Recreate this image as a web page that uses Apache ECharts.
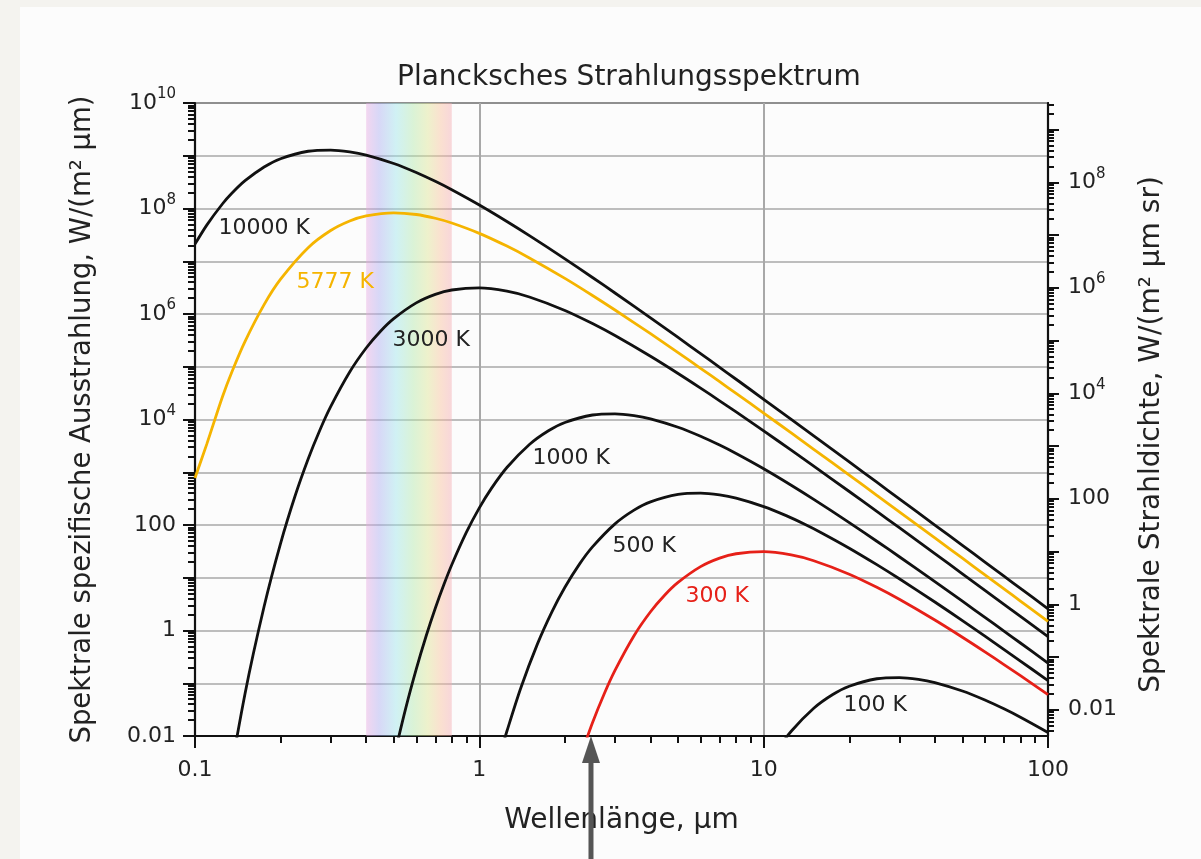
<!DOCTYPE html>
<html><head><meta charset="utf-8">
<script src="https://cdn.jsdelivr.net/npm/echarts@6/dist/echarts.min.js"></script>
<style>
html,body{margin:0;padding:0;width:1201px;height:859px;overflow:hidden;background:#f4f3ef;}
#card{position:absolute;left:20px;top:7px;right:0;bottom:0;background:#fcfcfc;}
#chart{position:absolute;left:0;top:0;width:1201px;height:859px;}
</style></head><body><div id="card"></div><div id="chart"></div>
<script>
// ---------- data (wavelength in µm, spectral exitance in W/(m² µm)) ----------
const wl10000 = [0.1,0.11,0.125,0.135,0.15,0.175,0.2,0.25,0.3,0.35,0.4,0.5,0.6,0.7,0.8,1,1.25,1.5,2,2.5,3,4,5,6,7,8,10,12.5,15,20,25,30,40,50,60,70,80,100];
const m10000  = [2.11e7,4.848e7,1.23e8,1.963e8,3.364e8,6.129e8,8.789e8,1.217e9,1.283e9,1.187e9,1.030e9,7.139e8,4.812e8,3.269e8,2.265e8,1.164e8,5.673e7,3.061e7,1.110e7,4.925e6,2.502e6,8.441e5,3.591e5,1.776e5,9.756e4,5.795e4,2.418e4,1.005e4,4894,1568,646.8,313.4,99.77,41.02,19.83,10.72,6.292,2.582];

const wl5777 = [0.1,0.11,0.125,0.135,0.15,0.175,0.2,0.25,0.3,0.35,0.4,0.5,0.6,0.7,0.8,1,1.25,1.5,2,2.5,3,4,5,6,7,8,10,12.5,15,20,25,30,40,50,60,70,80,100];
const m5777  = [780,3412,2.725e4,8.13e4,3.031e5,1.504e6,4.568e6,1.807e7,3.820e7,5.790e7,7.237e7,8.279e7,7.700e7,6.531e7,5.313e7,3.381e7,1.936e7,1.156e7,4.727e6,2.243e6,1.190e6,4.230e5,1.855e5,9.353e4,5.210e4,3.127e4,1.323e4,5561,2728,881.7,365.8,177.9,56.88,23.45,11.35,6.146,3.611,1.484];

const wl3000 = [0.125,0.15,0.175,0.2,0.225,0.25,0.275,0.3,0.35,0.4,0.45,0.5,0.6,0.7,0.8,1,1.25,1.5,2,2.5,3,4,5,6,7,8,10,12.5,15,20,25,30,40,50,60,70,80,100];
const m3000  = [2.66e-4,0.0641,2.855,45.03,358.7,1786,6343,1.756e4,7.973e4,2.268e5,4.769e5,8.176e5,1.626e6,2.358e6,2.852e6,3.117e6,2.702e6,2.100e6,1.169e6,6.595e5,3.902e5,1.577e5,7.439e4,3.931e4,2.262e4,1.391e4,6080,2622,1308,431.5,181.2,88.82,28.69,11.89,5.783,3.139,1.848,0.7616];

const wl1000 = [0.5,0.55,0.6,0.65,0.7,0.75,0.8,0.9,1,1.1,1.25,1.5,1.75,2,2.5,3,3.5,4,5,6,7,8,10,12.5,15,20,25,30,40,50,60,70,80,100];
const m1000  = [3.81e-3,0.03237,0.1853,0.786,2.637,7.350,17.65,72.27,211.1,484.8,1230,3364,6129,8789,1.217e4,1.283e4,1.187e4,1.030e4,7139,4812,3269,2265,1164,567.3,306.1,111.0,49.25,25.02,8.441,3.591,1.776,0.9756,0.5795,0.2418];

const wl500 = [1.2,1.25,1.4,1.6,1.8,2,2.25,2.5,3,3.5,4,5,6,7,8,10,12,14,16,20,25,30,40,50,60,80,100];
const m500  = [5.79e-3,0.01232,0.0824,0.5517,2.258,6.596,18.11,38.43,105.1,191.5,274.7,380.3,400.9,371.1,321.8,223.1,150.4,102.2,70.79,36.36,17.73,9.566,3.469,1.539,0.7819,0.2638,0.1122];

const wl300 = [2.25,2.5,2.75,3,3.5,4,4.5,5,6,7,8,10,12.5,15,20,25,30,40,50,60,70,80,100];
const m300  = [3.587e-3,0.01786,0.06343,0.1756,0.7973,2.268,4.769,8.176,16.26,23.58,28.52,31.17,27.02,21.00,11.69,6.595,3.902,1.577,0.7439,0.3931,0.2262,0.1391,0.0608];

const wl100 = [11,12.5,15,17.5,20,25,30,35,40,50,60,70,80,100];
const m100  = [4.848e-3,0.0123,0.03364,0.06129,0.08789,0.1217,0.1283,0.1187,0.1030,0.07139,0.04812,0.03269,0.02265,0.01164];

const curveNames = ['10000 K','5777 K','3000 K','1000 K','500 K','300 K','100 K'];
const visibleBand = [0.4, 0.8];          // µm
const arrowWavelength = 2.47;            // µm
const xTickLabels = [0.1, 1, 10, 100];
const yTickLabels = [0.01, 1, 100, 1e4, 1e6, 1e8, 1e10];
const rightTickLabels = [0.01, 1, 100, 1e4, 1e6, 1e8];

// ---------- styling / layout ----------
const FONT = 'DejaVu Sans';
const TXT = '#222';
const curveData = [[wl10000,m10000],[wl5777,m5777],[wl3000,m3000],[wl1000,m1000],[wl500,m500],[wl300,m300],[wl100,m100]];
const curveColors = ['#111','#f5b400','#111','#111','#111','#e62018','#111'];
// label anchors (left edge, vertical centre) in data coordinates
const labelAnchors = [[0.1205,4.27e7],[0.2266,4.04e6],[0.493,3.2e5],[1.532,1862],[2.93,40],[5.29,4.5],[19.0,0.0387]];

const chart = echarts.init(document.getElementById('chart'), null, {renderer:'canvas'});

function powLabel(v){
  const e = Math.round(Math.log10(v));
  if (e === -2) return '{b|0.01}';
  if (e === 0) return '{b|1}';
  if (e === 2) return '{b|100}';
  if (e % 2 !== 0) return '';
  return '{b|10}{s|' + e + '}';
}
const richLab = {
  b:{fontSize:22, fontFamily:FONT, color:TXT, lineHeight:32},
  s:{fontSize:15, fontFamily:FONT, color:TXT, verticalAlign:'top', lineHeight:17}
};
function minorValues(lo, hi){
  const out = [];
  for (let e = -4; e <= 10; e++) for (let m = 2; m <= 9; m++) {
    const v = m * Math.pow(10, e);
    if (v > lo && v < hi) out.push(+v.toPrecision(3));
  }
  return out;
}
function decadeValues(lo, hi){
  const out = [];
  for (let e = -4; e <= 10; e++) { const v = Math.pow(10, e); if (v >= lo && v <= hi) out.push(+v.toPrecision(3)); }
  return out;
}
const rMin = 0.01/Math.PI, rMax = 1e10/Math.PI;
const axisLineStyle = {color:'#111', width:2.2};
const tickStyle = {color:'#111', width:2};

const bandGradient = new echarts.graphic.LinearGradient(0,0,1,0,[
  {offset:0.0, color:'rgba(232,169,226,0.45)'},
  {offset:0.15, color:'rgba(172,172,241,0.45)'},
  {offset:0.35, color:'rgba(155,229,235,0.45)'},
  {offset:0.55, color:'rgba(178,232,169,0.45)'},
  {offset:0.72, color:'rgba(221,229,146,0.45)'},
  {offset:0.87, color:'rgba(249,192,155,0.45)'},
  {offset:1.0, color:'rgba(244,169,178,0.45)'}
]);

const series = curveData.map((cd, i) => {
  const s = {
    name: curveNames[i], type:'line', xAxisIndex:0, yAxisIndex:0,
    data: cd[0].map((x, j) => [x, cd[1][j]]),
    showSymbol:false, smooth:0.3, clip:true, z: 3,
    lineStyle:{color:curveColors[i], width:2.8},
    itemStyle:{color:curveColors[i]},
    markPoint:{
      silent:true, symbol:'circle', symbolSize:1, itemStyle:{color:'rgba(0,0,0,0)'},
      data:[{coord: labelAnchors[i]}],
      label:{show:true, position:'right', distance:0, formatter: curveNames[i],
             color: curveColors[i] === '#111' ? TXT : curveColors[i], fontSize:22, fontFamily:FONT}
    }
  };
  if (i === 0) {
    s.markArea = {silent:true, itemStyle:{color: bandGradient}, data:[[{xAxis:visibleBand[0]},{xAxis:visibleBand[1]}]]};
  }
  return s;
});

const option = {
  backgroundColor:'transparent',
  animation:false,
  title:{text:'Plancksches Strahlungsspektrum', left:392, top:59,
         textStyle:{fontSize:28, fontWeight:'normal', fontFamily:FONT, color:TXT}},
  grid:{left:195, right:153, top:103, bottom:123, show:true, borderColor:'#444', borderWidth:2, backgroundColor:'transparent'},
  xAxis:[
    {type:'log', logBase:10, min:0.1, max:100, interval:1, position:'bottom',
     name:'Wellenlänge, µm', nameLocation:'middle', nameGap:71,
     nameTextStyle:{fontSize:28, fontFamily:FONT, color:TXT},
     axisLine:{show:true, lineStyle:axisLineStyle},
     axisTick:{show:true, inside:false, length:12, lineStyle:tickStyle, customValues:xTickLabels},
     axisLabel:{show:true, margin:23, fontSize:22, fontFamily:FONT, color:TXT, customValues:xTickLabels,
                formatter: v => String(+(+v).toPrecision(3))},
     splitLine:{show:true, lineStyle:{color:'#a8a8a8', width:2}}},
    {type:'log', logBase:10, min:0.1, max:100, position:'bottom',
     axisLine:{show:false}, axisLabel:{show:false}, splitLine:{show:false},
     axisTick:{show:true, length:7, lineStyle:tickStyle, customValues:minorValues(0.1,100)}}
  ],
  yAxis:[
    {type:'log', logBase:10, min:0.01, max:1e10, interval:1, position:'left',
     name:'Spektrale spezifische Ausstrahlung, W/(m² µm)', nameLocation:'middle', nameGap:98, nameRotate:90,
     nameTextStyle:{fontSize:27.5, fontFamily:FONT, color:TXT},
     axisLine:{show:true, lineStyle:axisLineStyle},
     axisTick:{show:true, inside:false, length:12, lineStyle:tickStyle},
     axisLabel:{show:true, margin:19, formatter:powLabel, rich:richLab},
     splitLine:{show:true, lineStyle:{color:'#a8a8a8', width:1.6}}},
    {type:'log', logBase:10, min:0.01, max:1e10, position:'left',
     axisLine:{show:false}, axisLabel:{show:false}, splitLine:{show:false},
     axisTick:{show:true, length:7, lineStyle:tickStyle, customValues:minorValues(0.01,1e10)}},
    {type:'log', logBase:10, min:rMin, max:rMax, position:'right',
     name:'Spektrale Strahldichte, W/(m² µm sr)', nameLocation:'middle', nameGap:90, nameRotate:90,
     nameTextStyle:{fontSize:28, fontFamily:FONT, color:TXT, padding:[0,30,0,0]},
     axisLine:{show:true, lineStyle:axisLineStyle},
     axisTick:{show:true, inside:false, length:11, lineStyle:tickStyle, customValues:decadeValues(rMin,rMax)},
     axisLabel:{show:true, margin:20, formatter:powLabel, rich:richLab, customValues:rightTickLabels},
     splitLine:{show:false}},
    {type:'log', logBase:10, min:rMin, max:rMax, position:'right',
     axisLine:{show:false}, axisLabel:{show:false}, splitLine:{show:false},
     axisTick:{show:true, length:6, lineStyle:tickStyle, customValues:minorValues(rMin,rMax)}}
  ],
  series: series
};
chart.setOption(option);

// annotation arrow pointing at the start of the 300 K curve
const p = chart.convertToPixel({xAxisIndex:0, yAxisIndex:0}, [arrowWavelength, yTickLabels[0]]);
chart.setOption({graphic:[
  {type:'line', z:100, shape:{x1:p[0], y1:859, x2:p[0], y2:p[1]+20}, style:{stroke:'#555', lineWidth:5}},
  {type:'polygon', z:100, shape:{points:[[p[0],p[1]],[p[0]-9,p[1]+27],[p[0]+9,p[1]+27]]}, style:{fill:'#555'}}
]});
</script></body></html>
